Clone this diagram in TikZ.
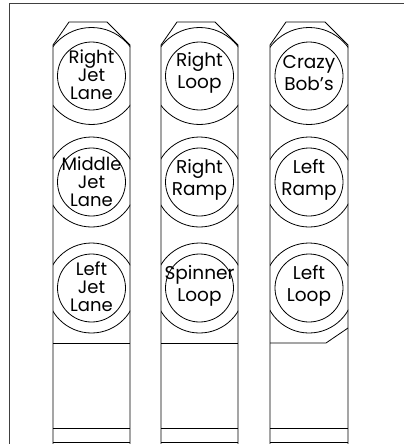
\documentclass[tikz,border=0pt]{standalone}
\usepackage{fontspec}
\setmainfont{Poppins}
\begin{document}
\begin{tikzpicture}[x=1pt,y=-1pt,line width=0.8pt,
  btnthree/.style={align=center,inner sep=0pt,font=\fontsize{18}{18}\selectfont},
  btntwo/.style={align=center,inner sep=0pt,font=\fontsize{18.5}{22.5}\selectfont}]
\useasboundingbox (0,0) rectangle (404,444);
% frame
\draw[line width=1.3pt,black!75] (9.5,444) -- (9.5,3.5) -- (404,3.5);
% columns
\foreach \L/\R in {53/130,161/238,270/348}{
  \draw (\L,444) -- (\L,45) -- ({\L+16},22) -- ({\R-23},22) -- (\R,45) -- (\R,444);
  \begin{scope}
    \clip (\L,0) rectangle (\R,444);
    \pgfmathsetmacro{\cx}{(\L+\R)/2}
    \draw (\cx,76) circle[radius=48.5];
    \draw (\cx,182) circle[radius=45];
    \draw (\cx,288) circle[radius=45];
    \draw (\cx,76) circle[radius=34];
    \draw (\cx,182) circle[radius=34];
    \draw (\cx,288) circle[radius=34];
  \end{scope}
  \draw (\L,428) -- (\R,428);
  \draw (\L,442) -- (\R,442);
}
% separator lines below third buttons
\draw (53,343) -- (130,343);
\draw (161,343) -- (238,343);
\draw (270,343) -- (326,343) -- (348,328);
% texts
\node[btnthree] (rjl) at (91.5,75) {Right\\Jet\\Lane};
\node[btnthree] (mjl) at (91.5,182) {Middle\\Jet\\Lane};
\node[btnthree] (ljl) at (91.5,287) {Left\\Jet\\Lane};
\node[btntwo] (rl) at (199.5,73) {Right\\Loop};
\node[btntwo] (rr) at (199.5,180) {Right\\Ramp};
\node[btntwo] (sl) at (199.5,286) {Spinner\\Loop};
\node[btntwo] (cb) at (309,73) {Crazy\\Bob\char39 s};
\node[btntwo] (lr) at (309,180) {Left\\Ramp};
\node[btntwo] (ll) at (309,286) {Left\\Loop};
\end{tikzpicture}
\end{document}
